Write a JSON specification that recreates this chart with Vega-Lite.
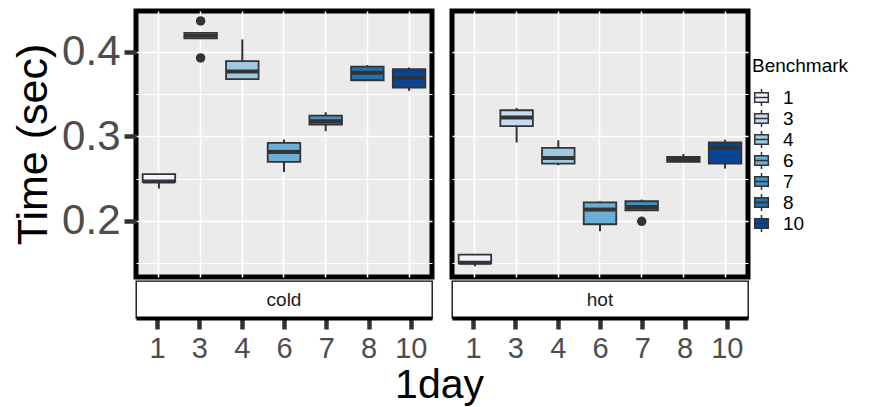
{
  "$schema": "https://vega.github.io/schema/vega-lite/v6.json",
  "padding": {"left": 10, "top": 8, "right": 0, "bottom": 0},
  "background": "white",
  "datasets": {
    "boxes": [
      {"facet": "cold", "bench": "1", "lower": 0.2383, "q1": 0.2462, "median": 0.2468, "q3": 0.2553, "upper": 0.2553},
      {"facet": "cold", "bench": "3", "lower": 0.4159, "q1": 0.4159, "median": 0.4190, "q3": 0.4225, "upper": 0.4225},
      {"facet": "cold", "bench": "4", "lower": 0.3677, "q1": 0.3677, "median": 0.3768, "q3": 0.3890, "upper": 0.4147},
      {"facet": "cold", "bench": "6", "lower": 0.2580, "q1": 0.2698, "median": 0.2817, "q3": 0.2923, "upper": 0.2963},
      {"facet": "cold", "bench": "7", "lower": 0.3062, "q1": 0.3141, "median": 0.3180, "q3": 0.3247, "upper": 0.3286},
      {"facet": "cold", "bench": "8", "lower": 0.3665, "q1": 0.3665, "median": 0.3752, "q3": 0.3827, "upper": 0.3843},
      {"facet": "cold", "bench": "10", "lower": 0.3539, "q1": 0.3579, "median": 0.3692, "q3": 0.3795, "upper": 0.3815},
      {"facet": "hot", "bench": "1", "lower": 0.1464, "q1": 0.1499, "median": 0.1505, "q3": 0.1602, "upper": 0.1602},
      {"facet": "hot", "bench": "3", "lower": 0.2928, "q1": 0.3121, "median": 0.3224, "q3": 0.3310, "upper": 0.3337},
      {"facet": "hot", "bench": "4", "lower": 0.2659, "q1": 0.2679, "median": 0.2745, "q3": 0.2864, "upper": 0.2955},
      {"facet": "hot", "bench": "6", "lower": 0.1878, "q1": 0.1961, "median": 0.2135, "q3": 0.2221, "upper": 0.2233},
      {"facet": "hot", "bench": "7", "lower": 0.2127, "q1": 0.2127, "median": 0.2166, "q3": 0.2233, "upper": 0.2253},
      {"facet": "hot", "bench": "8", "lower": 0.2698, "q1": 0.2698, "median": 0.2730, "q3": 0.2757, "upper": 0.2793},
      {"facet": "hot", "bench": "10", "lower": 0.2620, "q1": 0.2679, "median": 0.2870, "q3": 0.2928, "upper": 0.2963}
    ],
    "outliers": [
      {"facet": "cold", "bench": "3", "time": 0.4367},
      {"facet": "cold", "bench": "3", "time": 0.3929},
      {"facet": "hot", "bench": "7", "time": 0.1996}
    ],
    "strips": [
      {"facet": "cold"},
      {"facet": "hot"}
    ]
  },
  "config": {
    "font": "Liberation Sans",
    "view": {"stroke": null},
    "axis": {"labelFont": "Liberation Sans", "titleFont": "Liberation Sans"},
    "legend": {
      "orient": "none",
      "legendX": 616,
      "legendY": 46,
      "title": "Benchmark",
      "titleFont": "Liberation Sans",
      "titleFontSize": 19,
      "titleFontWeight": "normal",
      "titleColor": "black",
      "titlePadding": 12,
      "labelFont": "Liberation Sans",
      "labelFontSize": 19,
      "labelColor": "black",
      "labelOffset": 12,
      "rowPadding": -2.2,
      "symbolType": "M-0.8,-0.55H0.8V0.55H-0.8Z M-0.8,0H0.8 M0,-0.55V-1 M0,0.55V1",
      "symbolSize": 289,
      "symbolStrokeColor": "#333333",
      "symbolStrokeWidth": 1.5
    }
  },
  "title": {
    "text": "1day",
    "orient": "bottom",
    "anchor": "middle",
    "font": "Liberation Sans",
    "fontSize": 41,
    "fontWeight": "normal",
    "color": "black",
    "offset": 2,
    "dx": 10
  },
  "hconcat": [
    {
      "spacing": 0,
      "vconcat": [
        {
          "width": 296,
          "height": 266,
          "view": {"fill": "#EBEBEB", "stroke": "black", "strokeWidth": 5},
          "encoding": {
            "x": {
              "field": "bench",
              "type": "nominal",
              "scale": {"domain": ["1", "3", "4", "6", "7", "8", "10"], "paddingInner": 0, "paddingOuter": 0.05},
              "axis": {"labels": false, "ticks": false, "domain": false, "title": null, "grid": true, "gridColor": "white", "gridWidth": 1.5}
            }
          },
          "layer": [
            {
              "data": {"name": "boxes"},
              "transform": [{"filter": "datum.facet === 'cold'"}],
              "mark": {"type": "rule", "color": "#333333", "strokeWidth": 2},
              "encoding": {
                "y": {
                  "field": "lower",
                  "type": "quantitative",
                  "scale": {"domain": [0.1337, 0.4484], "nice": false, "zero": false},
                  "axis": {
                    "values": [0.15, 0.2, 0.25, 0.3, 0.35, 0.4, 0.45],
                    "labelExpr": "abs(datum.value * 10 - round(datum.value * 10)) < 0.01 ? format(datum.value, '.1f') : ''",
                    "title": "Time (sec)",
                    "titleFontSize": 43,
                    "titleFontWeight": "normal",
                    "titleColor": "black",
                    "titlePadding": 6,
                    "labelFontSize": 42,
                    "labelColor": "#4D4D4D",
                    "labelPadding": 4,
                    "tickSize": 12,
                    "tickWidth": 4.5,
                    "tickColor": "#333333",
                    "tickOpacity": {"condition": {"test": "abs(datum.value * 10 - round(datum.value * 10)) < 0.01", "value": 1}, "value": 0},
                    "domain": false,
                    "grid": true,
                    "gridColor": "white",
                    "gridWidth": {"condition": {"test": "abs(datum.value * 10 - round(datum.value * 10)) < 0.01", "value": 1.6}, "value": 1}
                  }
                },
                "y2": {"field": "upper"}
              }
            },
            {
              "data": {"name": "boxes"},
              "transform": [{"filter": "datum.facet === 'cold'"}],
              "mark": {"type": "bar", "width": {"band": 0.78}, "stroke": "#333333", "strokeWidth": 1.8},
              "encoding": {
                "y": {"field": "q1", "type": "quantitative"},
                "y2": {"field": "q3"},
                "fill": {
                  "field": "bench",
                  "type": "nominal",
                  "scale": {
                    "domain": ["1", "3", "4", "6", "7", "8", "10"],
                    "range": ["#EFF3FF", "#C6DBEF", "#9ECAE1", "#6BAED6", "#4292C6", "#2171B5", "#084594"]
                  },
                  "legend": {"title": "Benchmark"}
                }
              }
            },
            {
              "data": {"name": "boxes"},
              "transform": [{"filter": "datum.facet === 'cold'"}],
              "mark": {"type": "tick", "color": "#333333", "thickness": 4, "size": 32, "opacity": 1},
              "encoding": {
                "y": {"field": "median", "type": "quantitative"}
              }
            },
            {
              "data": {"name": "outliers"},
              "transform": [{"filter": "datum.facet === 'cold'"}],
              "mark": {"type": "circle", "color": "#333333", "size": 90, "opacity": 1},
              "encoding": {
                "y": {"field": "time", "type": "quantitative"}
              }
            }
          ]
        },
        {
          "width": 296,
          "height": 37,
          "view": {"fill": "white", "stroke": "black", "strokeWidth": 1.3},
          "data": {"name": "strips"},
          "transform": [{"filter": "datum.facet === 'cold'"}],
          "mark": {"type": "text", "font": "Liberation Sans", "fontSize": 19, "color": "#1A1A1A"},
          "encoding": {
            "x": {
              "datum": "6",
              "type": "nominal",
              "scale": {"domain": ["1", "3", "4", "6", "7", "8", "10"], "paddingInner": 0, "paddingOuter": 0.05},
              "axis": {"title": null, "labelAngle": 0, "labelFontSize": 29, "labelColor": "#4D4D4D", "labelPadding": 5, "tickSize": 11, "tickWidth": 4.5, "tickColor": "#333333", "domainColor": "black", "domainWidth": 4, "grid": false}
            },
            "text": {"field": "facet"}
          }
        }
      ],
      "resolve": {"scale": {"x": "independent", "y": "independent"}}
    },
    {
      "spacing": 0,
      "vconcat": [
        {
          "width": 296,
          "height": 266,
          "view": {"fill": "#EBEBEB", "stroke": "black", "strokeWidth": 5},
          "encoding": {
            "x": {
              "field": "bench",
              "type": "nominal",
              "scale": {"domain": ["1", "3", "4", "6", "7", "8", "10"], "paddingInner": 0, "paddingOuter": 0.05},
              "axis": {"labels": false, "ticks": false, "domain": false, "title": null, "grid": true, "gridColor": "white", "gridWidth": 1.5}
            }
          },
          "layer": [
            {
              "data": {"name": "boxes"},
              "transform": [{"filter": "datum.facet === 'hot'"}],
              "mark": {"type": "rule", "color": "#333333", "strokeWidth": 2},
              "encoding": {
                "y": {
                  "field": "lower",
                  "type": "quantitative",
                  "scale": {"domain": [0.1337, 0.4484], "nice": false, "zero": false},
                  "axis": {
                    "values": [0.15, 0.2, 0.25, 0.3, 0.35, 0.4, 0.45],
                    "labels": false,
                    "ticks": false,
                    "title": null,
                    "domain": false,
                    "grid": true,
                    "gridColor": "white",
                    "gridWidth": {"condition": {"test": "abs(datum.value * 10 - round(datum.value * 10)) < 0.01", "value": 1.6}, "value": 1}
                  }
                },
                "y2": {"field": "upper"}
              }
            },
            {
              "data": {"name": "boxes"},
              "transform": [{"filter": "datum.facet === 'hot'"}],
              "mark": {"type": "bar", "width": {"band": 0.78}, "stroke": "#333333", "strokeWidth": 1.8},
              "encoding": {
                "y": {"field": "q1", "type": "quantitative"},
                "y2": {"field": "q3"},
                "fill": {
                  "field": "bench",
                  "type": "nominal",
                  "scale": {
                    "domain": ["1", "3", "4", "6", "7", "8", "10"],
                    "range": ["#EFF3FF", "#C6DBEF", "#9ECAE1", "#6BAED6", "#4292C6", "#2171B5", "#084594"]
                  },
                  "legend": {"title": "Benchmark"}
                }
              }
            },
            {
              "data": {"name": "boxes"},
              "transform": [{"filter": "datum.facet === 'hot'"}],
              "mark": {"type": "tick", "color": "#333333", "thickness": 4, "size": 32, "opacity": 1},
              "encoding": {
                "y": {"field": "median", "type": "quantitative"}
              }
            },
            {
              "data": {"name": "outliers"},
              "transform": [{"filter": "datum.facet === 'hot'"}],
              "mark": {"type": "circle", "color": "#333333", "size": 90, "opacity": 1},
              "encoding": {
                "y": {"field": "time", "type": "quantitative"}
              }
            }
          ]
        },
        {
          "width": 296,
          "height": 37,
          "view": {"fill": "white", "stroke": "black", "strokeWidth": 1.3},
          "data": {"name": "strips"},
          "transform": [{"filter": "datum.facet === 'hot'"}],
          "mark": {"type": "text", "font": "Liberation Sans", "fontSize": 19, "color": "#1A1A1A"},
          "encoding": {
            "x": {
              "datum": "6",
              "type": "nominal",
              "scale": {"domain": ["1", "3", "4", "6", "7", "8", "10"], "paddingInner": 0, "paddingOuter": 0.05},
              "axis": {"title": null, "labelAngle": 0, "labelFontSize": 29, "labelColor": "#4D4D4D", "labelPadding": 5, "tickSize": 11, "tickWidth": 4.5, "tickColor": "#333333", "domainColor": "black", "domainWidth": 4, "grid": false}
            },
            "text": {"field": "facet"}
          }
        }
      ],
      "resolve": {"scale": {"x": "independent", "y": "independent"}}
    }
  ],
  "spacing": 14,
  "resolve": {"scale": {"x": "independent", "y": "independent", "fill": "shared"}}
}
